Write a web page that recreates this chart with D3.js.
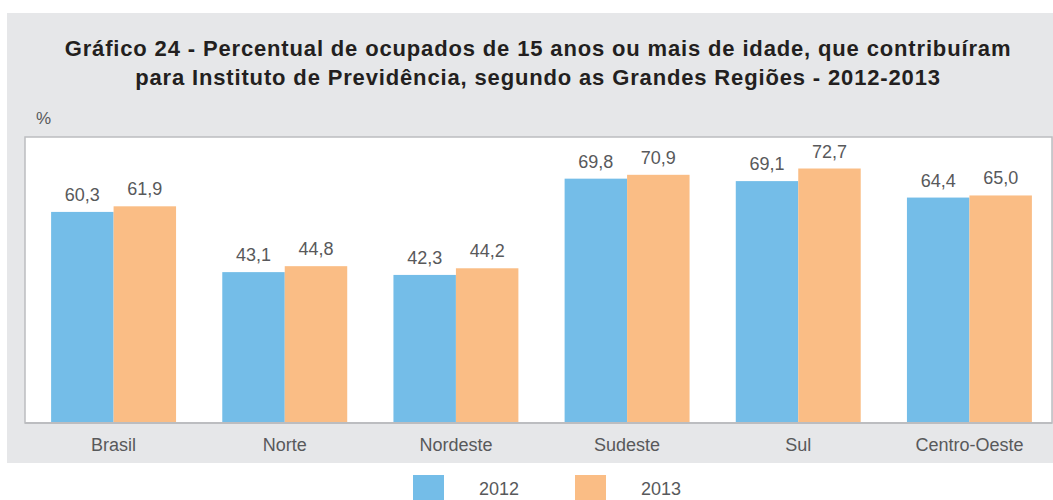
<!DOCTYPE html>
<html>
<head>
<meta charset="utf-8">
<script src="https://cdn.jsdelivr.net/npm/d3@7"></script>
<style>
  body { margin: 0; background: #fff; }
  text { font-family: "Liberation Sans", Arial, sans-serif; }
</style>
</head>
<body>
<div id="chart"></div>
<script>
"use strict"

const regions = ["Brasil", "Norte", "Nordeste", "Sudeste", "Sul", "Centro-Oeste"];
const years = ["2012", "2013"];
const values2012 = [60.3, 43.1, 42.3, 69.8, 69.1, 64.4];
const values2013 = [61.9, 44.8, 44.2, 70.9, 72.7, 65.0];
const colorByYear = new Map([["2012", "#74bde8"], ["2013", "#fabd85"]]);

let W = 1053, H = 500;
let plot = {left: 25, top: 137, right: 1052, bottom: 423};

let svg = d3.select("#chart").append("svg")
  .attr("width", W)
  .attr("height", H);

// gray panel
svg.append("rect")
  .attr("x", 7).attr("y", 13)
  .attr("width", W - 7).attr("height", 450)
  .style("fill", "#e6e7e9");

// title
let title = svg.append("text")
  .attr("text-anchor", "middle")
  .style("font-size", "22px")
  .style("font-weight", "bold")
  .style("letter-spacing", "0.85px")
  .style("fill", "#231f20");
title.append("tspan").attr("x", 538).attr("y", 56)
  .text("Gráfico 24 - Percentual de ocupados de 15 anos ou mais de idade, que contribuíram");
title.append("tspan").attr("x", 538).attr("y", 85)
  .text("para Instituto de Previdência, segundo as Grandes Regiões - 2012-2013");

svg.append("text")
  .attr("x", 36).attr("y", 124)
  .style("font-size", "17px")
  .style("fill", "#58595b")
  .text("%");

// plot area
svg.append("rect")
  .attr("x", plot.left).attr("y", plot.top)
  .attr("width", plot.right - plot.left).attr("height", plot.bottom - plot.top)
  .style("fill", "#fff")
  .style("stroke", "#bcbdc0")
  .style("stroke-width", 1.5);

let x = d3.scaleBand()
  .domain(regions)
  .range([plot.left + 3, plot.right + 3])
  .paddingInner(0.27)
  .paddingOuter(0.135);

let xs = d3.scaleBand()
  .domain(years)
  .range([0, x.bandwidth()]);

let y = d3.scaleLinear()
  .domain([0, 81.7])
  .range([plot.bottom, plot.top]);

let data = [];
regions.forEach(function(r, i) {
  data.push({region: r, year: "2012", value: values2012[i]});
  data.push({region: r, year: "2013", value: values2013[i]});
});

svg.append("g").selectAll("rect")
  .data(data)
  .enter().append("rect")
  .attr("x", function(d) { return x(d.region) + xs(d.year) })
  .attr("y", function(d) { return y(d.value) })
  .attr("width", xs.bandwidth())
  .attr("height", function(d) { return y(0) - y(d.value) })
  .style("fill", function(d) { return colorByYear.get(d.year) });

svg.append("g").selectAll("text")
  .data(data)
  .enter().append("text")
  .attr("x", function(d) { return x(d.region) + xs(d.year) + xs.bandwidth() / 2 })
  .attr("y", function(d) { return y(d.value) - 11 })
  .attr("text-anchor", "middle")
  .style("font-size", "18px")
  .style("fill", "#58595b")
  .text(function(d) { return d.value.toFixed(1).replace(".", ",") });

// bottom axis line + labels
svg.append("line")
  .attr("x1", plot.left).attr("x2", plot.right)
  .attr("y1", plot.bottom).attr("y2", plot.bottom)
  .style("stroke", "#bcbdc0")
  .style("stroke-width", 2);

let xAxis = svg.append("g")
  .attr("transform", "translate(0," + plot.bottom + ")")
  .call(d3.axisBottom(x).tickSize(0).tickPadding(15));
xAxis.select(".domain").remove();
xAxis.selectAll("text")
  .style("font-size", "18px")
  .style("fill", "#58595b")
  .style("font-family", "\"Liberation Sans\", Arial, sans-serif");

// legend
let legendX = d3.scaleOrdinal().domain(years).range([413, 575]);
let legend = svg.append("g").selectAll("g")
  .data(years)
  .enter().append("g")
  .attr("transform", function(d) { return "translate(" + legendX(d) + ",475)" });
legend.append("rect")
  .attr("width", 31).attr("height", 25)
  .style("fill", function(d) { return colorByYear.get(d) });
legend.append("text")
  .attr("x", 66).attr("y", 20)
  .style("font-size", "18px")
  .style("fill", "#58595b")
  .text(function(d) { return d });
</script>
</body>
</html>
